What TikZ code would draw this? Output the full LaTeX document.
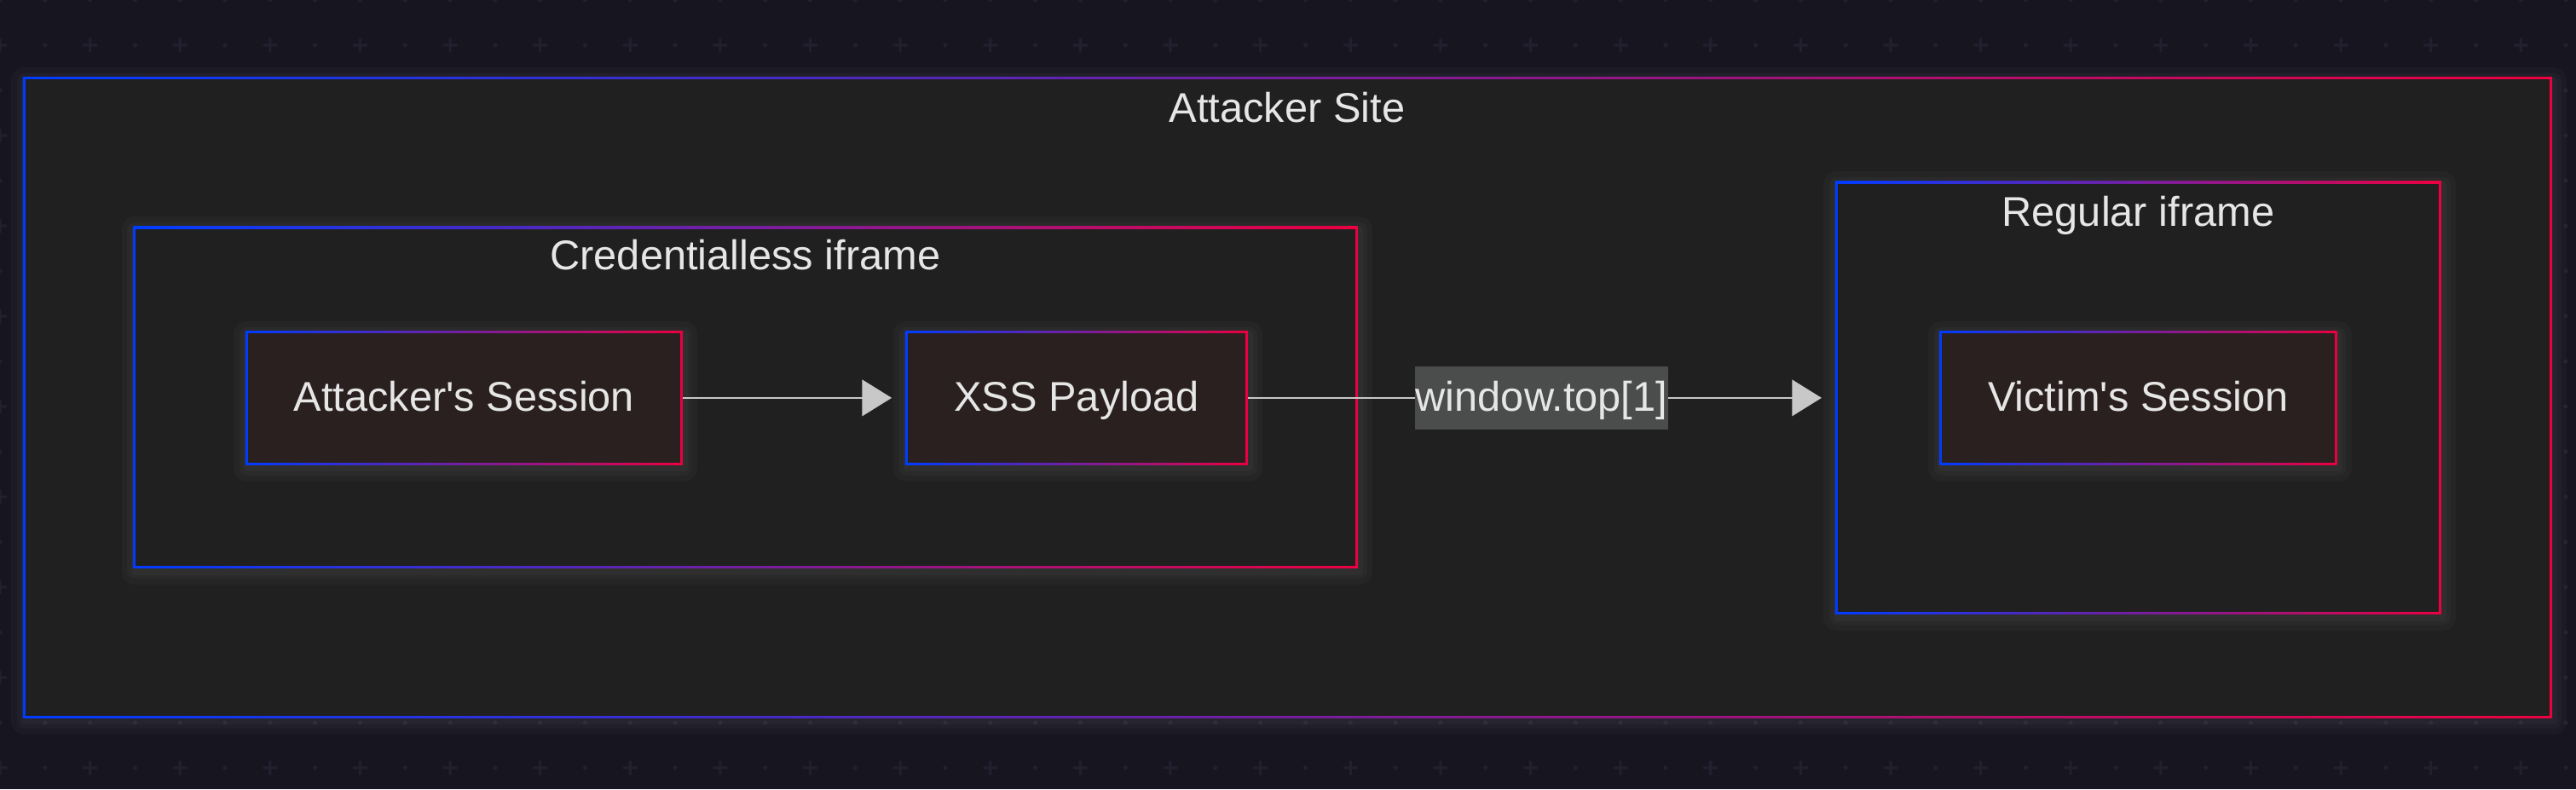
\documentclass[tikz,border=0pt]{standalone}
\usepackage{fontspec}
\setmainfont{Liberation Sans}
\usetikzlibrary{arrows.meta}
\definecolor{bgc}{HTML}{17151F}
\definecolor{patc}{HTML}{221F2F}
\definecolor{sitec}{HTML}{202020}
\definecolor{nodec}{HTML}{2B2020}
\definecolor{gblue}{RGB}{0,60,255}
\definecolor{gred}{RGB}{235,0,65}
\definecolor{txtc}{HTML}{E6E6E6}
\definecolor{arrc}{HTML}{C8C8C8}
\definecolor{lblc}{HTML}{4B4C4C}
\newcommand\bigfont{\fontsize{25.3pt}{30pt}\selectfont}
\tikzset{
  gbox/.style={inner sep=0pt, left color=gblue, right color=gred, text=txtc,
    font=\bigfont, text height=16pt, text depth=0pt,
    path picture={\fill[#1] ([xshift=1.4pt,yshift=-1.4pt]path picture bounding box.north west)
      rectangle ([xshift=-1.4pt,yshift=1.4pt]path picture bounding box.south east);}},
  glow/.style={draw=white, line join=round},
  ttl/.style={text=txtc, font=\bigfont, inner sep=0pt, anchor=base},
  arr/.style={draw=arrc, line width=1.4pt, -{Triangle[length=18pt,width=22pt]}, shorten >=8pt},
  lbl/.style={fill=lblc, text=txtc, font=\bigfont, inner xsep=0.5pt, inner ysep=0pt,
    minimum height=38pt, text height=16pt, text depth=0pt},
  patdot/.style={fill=patc},
}
\newcommand\mkbox[7]{%
  \foreach \w/\o in {4/0.025,9/0.025,16/0.025}{%
    \draw[glow, line width=\w pt, draw opacity=\o, shift={(1,2)}] (#2,#3) rectangle (#4,#5);}%
  \node[gbox=#6, minimum width={(#4-#2)*1pt}, minimum height={(#5-#3)*1pt}]
    (#1) at ({(#2+#4)/2},{(#3+#5)/2}) {#7};%
}
\begin{document}
\begin{tikzpicture}[x=1pt,y=-1pt]
  \fill[bgc] (0,0) rectangle (1568,480.5);
  \useasboundingbox (0,0) rectangle (1568,480.5);
  % background pattern
  \foreach \i in {0,...,57}{\foreach \j in {0,2,...,16}{\fill[patdot] (\i*27.4,\j*27.5) circle (1.4pt);}}
  \foreach \j in {1,3,...,17}{%
    \foreach \i in {1,3,...,57}{\fill[patdot] (\i*27.4,\j*27.5) circle (1.4pt);}
    \foreach \i in {0,2,...,56}{\fill[patdot, shift={(\i*27.4,\j*27.5)}] (-4.4,-0.8) rectangle (4.4,0.8) (-0.8,-4.4) rectangle (0.8,4.4);}
  }
  % boxes
  \mkbox{site}{14}{47}{1553.5}{437}{sitec}{}
  \node[ttl] (tsite) at (783.5,74.3) {Attacker Site};
  \mkbox{cred}{81}{138}{826.5}{346}{sitec}{}
  \node[ttl] (tcred) at (453.7,164.3) {Credentialless iframe};
  \mkbox{reg}{1117}{110.5}{1486}{374}{sitec}{}
  \node[ttl] (treg) at (1301.5,138) {Regular iframe};
  \mkbox{att}{149.4}{201.5}{415.5}{283}{nodec}{Attacker\textquotesingle s Session}
  \mkbox{xss}{551}{201.5}{759.6}{283}{nodec}{XSS Payload}
  \mkbox{vic}{1180.6}{201.5}{1422.4}{283}{nodec}{Victim\textquotesingle s Session}
  % connectors
  \draw[arr] (att) -- (xss);
  \draw[arr] (xss.east) -- node[lbl] (lab) {window.top[1]} (xss.east -| reg.west);
\end{tikzpicture}
\end{document}
